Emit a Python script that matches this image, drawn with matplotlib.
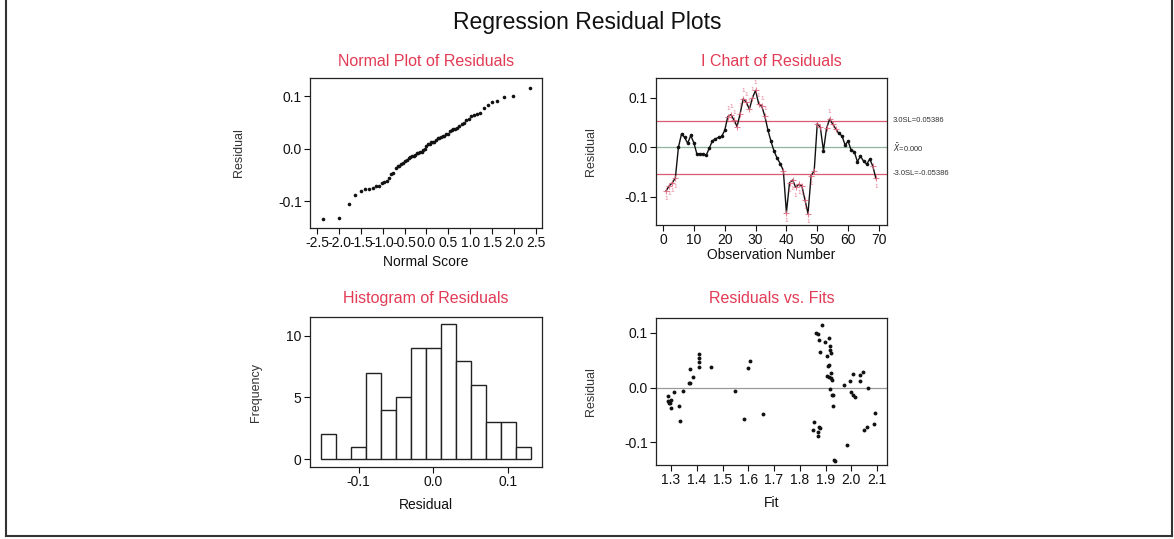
import numpy as np
import matplotlib
matplotlib.use("Agg")
import matplotlib.pyplot as plt
from matplotlib.lines import Line2D
from statistics import NormalDist

plt.rcParams["font.family"] = ["Liberation Sans", "DejaVu Sans"]
plt.rcParams["axes.unicode_minus"] = False

# residuals in observation order (1..69)
residuals = [
    -0.088, -0.078, -0.072, -0.062, 0.000, 0.027, 0.020, 0.008, 0.024, 0.009,
    -0.014, -0.013, -0.014, -0.016, -0.002, 0.013, 0.017, 0.020, 0.022, 0.034,
    0.062, 0.066, 0.055, 0.042, 0.068, 0.098, 0.091, 0.077, 0.100, 0.115,
    0.088, 0.083, 0.063, 0.035, 0.012, -0.008, -0.022, -0.033, -0.047, -0.132,
    -0.072, -0.066, -0.081, -0.075, -0.078, -0.106, -0.134, -0.057, -0.048, 0.048,
    0.040, -0.007, 0.038, 0.057, 0.047, 0.037, 0.028, 0.023, 0.005, 0.012,
    -0.006, -0.009, -0.029, -0.018, -0.028, -0.034, -0.024, -0.038, -0.063,
]
# fitted values, same order
fits = [
    1.870, 2.048, 1.875, 1.336, 2.064, 1.920, 1.915, 1.370, 2.007, 1.372,
    1.930, 1.925, 2.006, 1.287, 1.918, 1.925, 1.920, 1.384, 1.905, 1.375,
    1.410, 1.880, 1.410, 1.915, 1.918, 1.870, 1.912, 1.917, 1.865, 1.886,
    1.876, 1.897, 1.920, 1.599, 1.994, 1.313, 1.300, 1.930, 2.093, 1.932,
    2.060, 2.090, 1.870, 1.878, 1.852, 1.983, 1.938, 1.585, 1.657, 1.608,
    1.910, 1.347, 1.457, 1.905, 1.410, 1.410, 2.044, 2.035, 1.970, 2.035,
    1.547, 2.000, 1.295, 2.015, 1.291, 1.330, 1.290, 1.300, 1.854,
]
hist_start, hist_stop, hist_bins = -0.15, 0.13, 14

ucl, center, lcl = 0.05386, 0.000, -0.05386
ucl_label = "3.0SL=0.05386"
center_label = r"$\bar{X}$=0.000"
lcl_label = "-3.0SL=-0.05386"

TITLE_RED = "#e23b55"
INK = "#111111"

res = np.array(residuals)
fit = np.array(fits)
n = len(res)
obs = np.arange(1, n + 1)

W, H = 1174, 539
fig = plt.figure(figsize=(W / 100, H / 100), dpi=100)


def px_axes(left, top, right, bottom):
    return fig.add_axes([left / W, 1 - bottom / H, (right - left) / W, (bottom - top) / H])


def style(ax, title, xlabel, ylabel, xl_y, yl_x, title_y):
    for s in ax.spines.values():
        s.set_color("#222222")
        s.set_linewidth(0.9)
    ax.tick_params(direction="out", length=4, width=0.8, labelsize=10, colors=INK, pad=2)
    ax.text(0.5, title_y, title, transform=ax.transAxes, ha="center", va="center",
            color=TITLE_RED, fontsize=11.5)
    ax.set_xlabel(xlabel, fontsize=10, color=INK)
    ax.xaxis.set_label_coords(0.5, xl_y)
    ax.set_ylabel(ylabel, fontsize=9, color="#333333")
    ax.yaxis.set_label_coords(yl_x, 0.5)


fig.text(587 / W, 1 - 22 / H, "Regression Residual Plots", ha="center", va="center",
         fontsize=16.5, color=INK)

# normal probability plot
ax1 = px_axes(310, 78, 542, 228)
sorted_res = np.sort(res)
nd = NormalDist()
scores = [nd.inv_cdf((i - 0.375) / (n + 0.25)) for i in range(1, n + 1)]
ax1.plot(scores, sorted_res, "o", color="#111111", ms=2.6, mec="none")
ax1.set_xlim(-2.66, 2.64)
ax1.set_ylim(-0.1514, 0.1343)
ax1.set_xticks(np.arange(-2.5, 2.51, 0.5))
ax1.set_xticklabels([f"{v:.1f}" for v in np.arange(-2.5, 2.51, 0.5)], fontsize=9)
ax1.set_yticks([0.1, 0.0, -0.1])
ax1.set_yticklabels(["0.1", "0.0", "-0.1"])
style(ax1, "Normal Plot of Residuals", "Normal Score", "Residual", -0.18, -0.28, 1.107)

# I chart
ax2 = px_axes(656, 78, 887, 225)
ax2.axhline(ucl, color="#dc5a70", lw=0.9)
ax2.axhline(center, color="#8fb39c", lw=0.9)
ax2.axhline(lcl, color="#dc5a70", lw=0.9)
ax2.plot(obs, res, "-", color="#111111", lw=1.0)
sigma = ucl / 3
flag = np.abs(res) > 2 * sigma
ax2.plot(obs[~flag], res[~flag], "o", color="#111111", ms=2.6, mec="none")
ax2.plot(obs[flag], res[flag], "+", color="#e0607a", ms=4, mew=0.8, alpha=0.8)
for k, r in zip(obs, res):
    if r > ucl:
        ax2.annotate("1", (k, r), xytext=(0, 4), textcoords="offset points",
                     ha="center", va="bottom", fontsize=4.5, color="#e0607a", alpha=0.8)
    elif r < lcl:
        ax2.annotate("1", (k, r), xytext=(0, -4), textcoords="offset points",
                     ha="center", va="top", fontsize=4.5, color="#e0607a", alpha=0.8)
ax2.set_xlim(-2.27, 72.6)
ax2.set_ylim(-0.157, 0.140)
ax2.set_xticks(np.arange(0, 71, 10))
ax2.set_yticks([0.1, 0.0, -0.1])
ax2.set_yticklabels(["0.1", "0.0", "-0.1"])
for val, lab in [(ucl, ucl_label), (center, center_label), (lcl, lcl_label)]:
    ax2.text(1.026, val, lab, transform=ax2.get_yaxis_transform(), ha="left",
             va="center", fontsize=5.5, color="#333333")
style(ax2, "I Chart of Residuals", "Observation Number", "Residual", -0.156, -0.255, 1.109)

# histogram
ax3 = px_axes(310, 317, 542, 467)
edges = np.linspace(hist_start, hist_stop, hist_bins + 1)
counts, _ = np.histogram(res, bins=edges)
ax3.bar(edges[:-1], counts, width=np.diff(edges), align="edge", color="white",
        edgecolor="#222222", linewidth=1.0)
ax3.set_xlim(-0.1647, 0.1447)
ax3.set_ylim(-0.65, 11.54)
ax3.set_xticks([-0.1, 0.0, 0.1])
ax3.set_xticklabels(["-0.1", "0.0", "0.1"])
ax3.set_yticks([0, 5, 10])
style(ax3, "Histogram of Residuals", "Residual", "Frequency", -0.207, -0.207, 1.12)

# residuals vs fits
ax4 = px_axes(656, 318, 887, 465)
ax4.axhline(0, color="#999999", lw=0.9)
ax4.plot(fit, res, "o", color="#111111", ms=2.8, mec="none")
ax4.set_xlim(1.2417, 2.1388)
ax4.set_ylim(-0.142, 0.1275)
ax4.set_xticks(np.arange(1.3, 2.11, 0.1))
ax4.set_xticklabels([f"{v:.1f}" for v in np.arange(1.3, 2.11, 0.1)])
ax4.set_yticks([0.1, 0.0, -0.1])
ax4.set_yticklabels(["0.1", "0.0", "-0.1"])
style(ax4, "Residuals vs. Fits", "Fit", "Residual", -0.21, -0.255, 1.136)

# page frame
for xs, ys in [([6, 6], [0, 536]), ([6, 1172], [536, 536]), ([1172, 1172], [0, 536])]:
    fig.add_artist(Line2D([x / W for x in xs], [1 - y / H for y in ys],
                          transform=fig.transFigure, color="#333333", lw=1.5))

fig.savefig("out.png", dpi=100)
plt.close(fig)
